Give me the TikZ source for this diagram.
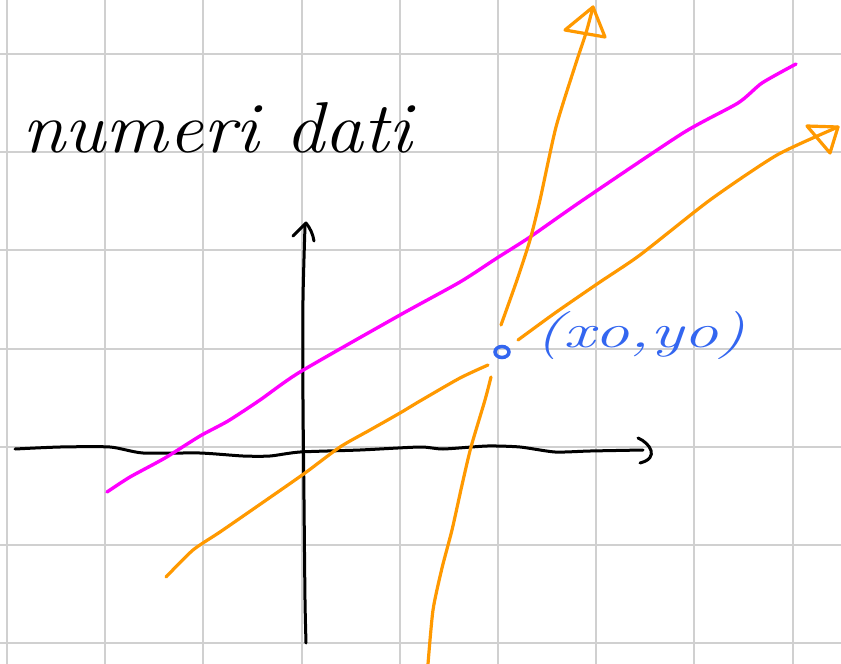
\documentclass[tikz,border=0pt]{standalone}
\usetikzlibrary{shapes.geometric}
\begin{document}
\begin{tikzpicture}[x=1pt,y=-1pt,
  gridline/.style={draw=gridgray,line width=2pt},
  ink/.style={line width=3pt,line cap=round,line join=round},
  axisink/.style={ink,draw=black},
  magink/.style={ink,draw=mag,line width=3.4pt},
  orink/.style={ink,draw=orng,line width=3.2pt},
  blueink/.style={ink,draw=pblue}]
\definecolor{gridgray}{RGB}{208,208,208}
\definecolor{mag}{RGB}{255,0,255}
\definecolor{orng}{RGB}{255,153,0}
\definecolor{pblue}{RGB}{51,102,240}
\useasboundingbox (0,0) rectangle (841,664);
\fill[white] (0,0) rectangle (841,664);
% grid
\foreach \i in {0,...,8} {\draw[gridline] ({7+98.2*\i},0) -- ({7+98.2*\i},664);}
\foreach \j in {0,...,6} {\draw[gridline] (0,{54+98.2*\j}) -- (841,{54+98.2*\j});}
% x axis
\draw[axisink] plot[smooth,tension=0.4] coordinates {(15,449) (60,447) (110,447) (143,453) (200,453) (243,456) (270,456) (300,452) (360,450) (420,447) (443,449) (487,446) (520,447) (555,452) (590,451) (643,450)};
\draw[axisink] (638,438) .. controls (650,443) and (660,458) .. (640,463);
% y axis
\draw[axisink] plot[smooth,tension=0.4] coordinates {(306,643) (305,600) (304,500) (303,400) (303,300) (305,226)};
\draw[axisink] (293,236) -- (306,223) .. controls (310,228) and (313,234) .. (314,241);
% magenta line
\draw[magink] plot[smooth,tension=0.4] coordinates {(107,492) (130,477) (165,458) (200,436) (228,421) (260,400) (300,372) (400,315) (460,282) (497,258) (530,237) (583,200) (683,133) (738,103) (762,83) (796,64)};
% orange line 1
\draw[orink] plot[smooth,tension=0.4] coordinates {(166,577) (193,550) (220,532) (262,503) (305,473) (340,447) (370,430) (400,413) (420,401) (460,378) (488,365)};
\draw[orink] plot[smooth,tension=0.4] coordinates {(518,340) (555,313) (600,282) (640,255) (710,200) (777,155) (838,127)};
\draw[orink] (807,126) -- (838,127) -- (830,153) -- cycle;
% orange line 2
\draw[orink] plot[smooth,tension=0.4] coordinates {(428,664) (433,610) (442,568) (452,530) (462,485) (471,447) (485,400) (491,377)};
\draw[orink] plot[smooth,tension=0.4] coordinates {(501,325) (517,280) (530,240) (540,200) (556,127) (576,63) (586,33) (593,7)};
\draw[orink] (565,30) -- (593,7) -- (605,37) -- cycle;
% point
\node[ellipse,draw=pblue,line width=3.5pt,minimum width=14pt,minimum height=11pt,inner sep=0pt] (p0) at (502,352) {};
\node[anchor=west,inner sep=0pt,text=pblue,xscale=1.45,font=\fontsize{48}{48}\selectfont\itshape] (lab) at (535,336) {(xo,yo)};
% title
\node[anchor=west,inner sep=0pt,xscale=1.08,font=\fontsize{72}{72}\selectfont\itshape] (title) at (22,128) {numeri dati};
\end{tikzpicture}
\end{document}
